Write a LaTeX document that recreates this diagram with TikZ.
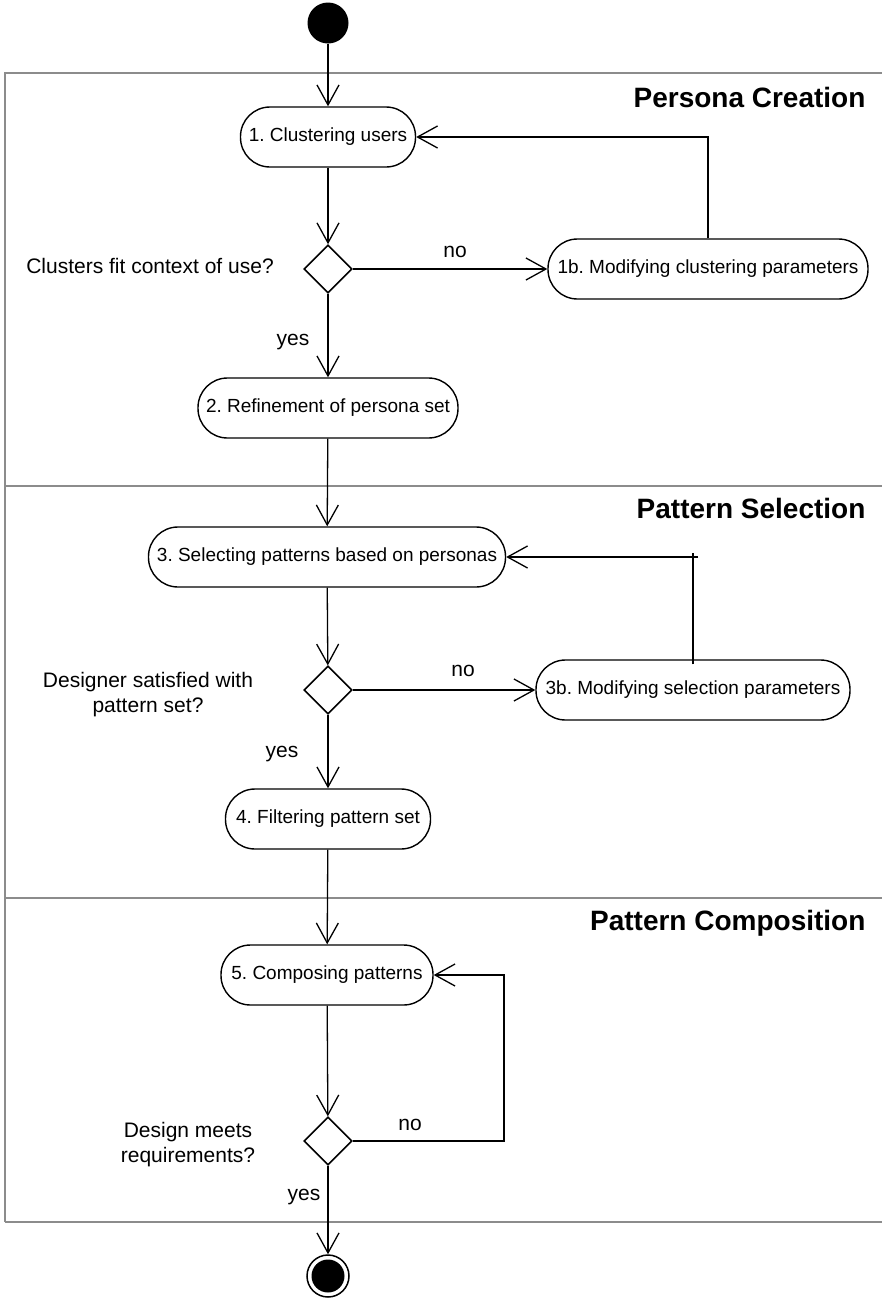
\documentclass[tikz,border=0pt]{standalone}
\usepackage{fontspec}
\setmainfont{Liberation Sans}
\usetikzlibrary{arrows.meta,shapes.geometric}
\frenchspacing
\begin{document}
\begin{tikzpicture}[x=1pt,y=-1pt,
  act/.style={draw, line width=1.4pt, rectangle, rounded corners=29.5pt,
    minimum height=60pt, inner sep=0pt, font=\fontsize{19}{22}\selectfont},
  decision/.style={draw, line width=1.6pt, diamond, minimum width=48pt,
    minimum height=48pt, inner sep=0pt},
  flow/.style={line width=1.3pt, -{Straight Barb[length=20pt,width=22pt,line width=1.3pt]}},
  plain/.style={line width=1.3pt},
  lbl/.style={font=\fontsize{21}{25}\selectfont, anchor=base},
  guard/.style={font=\fontsize{21}{25}\selectfont, align=center},
  lane/.style={draw=black!45, line width=2pt},
  title/.style={font=\bfseries\fontsize{28}{32}\selectfont, anchor=base east}]
\useasboundingbox (0,0) rectangle (882,1299);

% swimlane frame
\draw[lane] (4.5,1222) -- (4.5,73) -- (890,73);
\draw[lane] (4.5,486) -- (890,486);
\draw[lane] (4.5,898) -- (890,898);
\draw[lane] (4.5,1222) -- (890,1222);

\node[title] (t1) at (869,107) {Persona Creation};
\node[title] (t2) at (869,518) {Pattern Selection};
\node[title] (t3) at (869,930) {Pattern Composition};

% initial and final states
\node[circle, fill=black, minimum size=41pt, inner sep=0pt] (start) at (328,23) {};
\node[circle, draw, line width=1.5pt, minimum size=42pt, inner sep=0pt] (stop) at (328,1276) {};
\fill (stop.center) circle (16.5);

% activities
\node[act, minimum width=175pt] (n1) at (328,137) {1. Clustering users};
\node[act, minimum width=320pt] (n1b) at (708,269) {1b. Modifying clustering parameters};
\node[act, minimum width=260pt] (n2) at (328,408) {2. Refinement of persona set};
\node[act, minimum width=357pt] (n3) at (327,557) {3. Selecting patterns based on personas};
\node[act, minimum width=314pt] (n3b) at (693,690) {3b. Modifying selection parameters};
\node[act, minimum width=205pt] (n4) at (328,819) {4. Filtering pattern set};
\node[act, minimum width=212pt] (n5) at (327,975) {5. Composing patterns};

% decisions
\node[decision] (d1) at (328,269) {};
\node[decision] (d2) at (328,690) {};
\node[decision] (d3) at (328,1141) {};

% guard questions
\node[guard] (q1) at (150,266) {Clusters fit context of use?};
\node[guard, text depth=0pt] (q2) at (148,692) {Designer satisfied with\\pattern set?};
\node[guard] (q3) at (188,1145) {Design meets\\requirements?};

% flow
\draw[flow] (start) -- (n1);
\draw[flow] (n1) -- (d1);
\draw[flow] (d1) -- (n1b);
\draw[flow] (n1b.north) |- (n1.east);
\draw[flow] (d1) -- (n2);
\draw[flow] (n2) -- (n3);
\draw[flow] (n3) -- (d2);
\draw[flow] (d2) -- (n3b);
\draw[plain] ([yshift=-5pt]n3b.north) -- ([yshift=4pt]n3b.north |- n3.east);
\draw[flow] ([xshift=5pt]n3b.north |- n3.east) -- (n3.east);
\draw[flow] (d2) -- (n4);
\draw[flow] (n4) -- (n5);
\draw[flow] (n5) -- (d3);
\coordinate (r3) at (504,1141);
\draw[flow] (d3.east) -- (r3) |- (n5.east);
\draw[flow] (d3) -- (stop);

% branch labels
\node[lbl] (no1) at (455,257) {no};
\node[lbl] (yes1) at (293,345) {yes};
\node[lbl] (no2) at (463,676) {no};
\node[lbl] (yes2) at (282,757) {yes};
\node[lbl] (no3) at (410,1130) {no};
\node[lbl] (yes3) at (304,1200) {yes};
\end{tikzpicture}
\end{document}
